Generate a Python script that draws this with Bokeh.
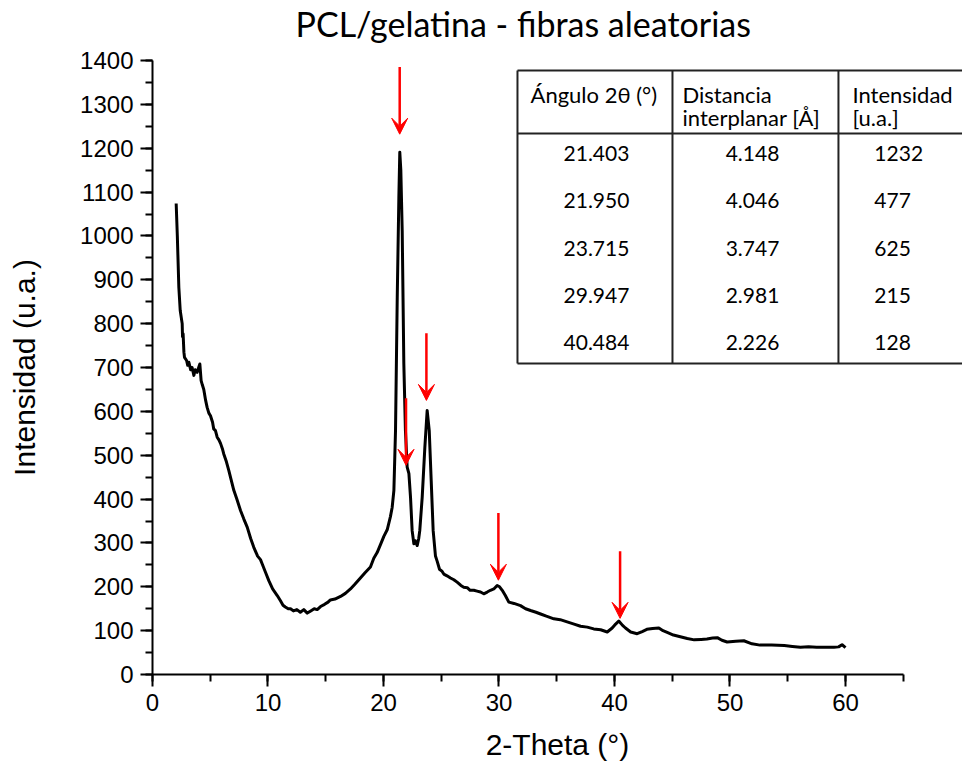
from bokeh.plotting import figure
from bokeh.models import Range1d, SingleIntervalTicker, Arrow, VeeHead, Title
from bokeh.core.properties import value
from bokeh.embed import file_html
from bokeh.resources import INLINE

# ---- XRD pattern ----
theta = [2.05, 2.15, 2.28, 2.40, 2.57, 2.60, 2.65, 2.72, 2.77, 2.95, 3.05, 3.15, 3.30, 3.43, 3.58,
         3.70, 3.87, 4.00, 4.10, 4.21, 4.32, 4.44, 4.60, 4.73, 4.88, 5.02, 5.20, 5.30, 5.45, 5.60,
         5.75, 5.89, 6.05, 6.17, 6.40, 6.61, 6.80, 7.04, 7.30, 7.62, 7.90, 8.20, 8.50, 8.77, 9.10,
         9.35, 9.50, 9.80, 10.07, 10.40, 10.80, 11.08, 11.30, 11.50, 11.75, 11.95, 12.20, 12.50,
         12.80, 13.10, 13.40, 13.70, 14.00, 14.26, 14.55, 14.90, 15.20, 15.40, 15.80, 16.28, 16.70,
         17.14, 17.50, 18.00, 18.40, 18.87, 19.16, 19.45, 19.80, 20.03, 20.32, 20.60, 20.75, 20.90,
         21.04, 21.19, 21.33, 21.41, 21.50, 21.62, 21.76, 21.90, 22.05, 22.20, 22.34, 22.48, 22.63,
         22.75, 22.92, 23.05, 23.14, 23.35, 23.58, 23.78, 23.96, 24.13, 24.30, 24.50, 24.65, 24.85,
         25.08, 25.22, 25.50, 25.80, 26.09, 26.40, 26.70, 26.95, 27.25, 27.50, 27.82, 28.10, 28.40,
         28.68, 28.98, 29.26, 29.55, 29.84, 30.05, 30.28, 30.55, 30.85, 31.30, 31.86, 32.30, 32.73,
         33.20, 33.60, 34.10, 34.75, 35.30, 35.90, 36.50, 37.06, 37.64, 38.20, 38.80, 39.37, 39.80,
         40.10, 40.37, 40.70, 40.95, 41.40, 41.96, 42.40, 42.80, 43.30, 43.84, 44.20, 44.56, 45.10,
         45.70, 46.30, 46.90, 47.50, 48.00, 48.50, 48.90, 49.30, 49.75, 50.50, 51.20, 51.90, 52.60,
         53.60, 54.70, 55.40, 56.10, 56.80, 57.50, 58.30, 59.00, 59.40, 59.70, 60.00]
intensity = [1074, 1000, 883, 830, 800, 770, 777, 735, 723, 716, 705, 712, 695, 700, 682,
             695, 689, 700, 708, 670, 660, 650, 625, 609, 596, 590, 575, 560, 556, 541,
             535, 527, 515, 503, 485, 465, 445, 420, 400, 374, 355, 336, 310, 290, 270,
             262, 252, 232, 214, 195, 180, 168, 158, 154, 150, 150, 145, 148,
             142, 148, 140, 145, 150, 148, 155, 160, 165, 170, 172, 178, 185,
             195, 205, 220, 232, 245, 265, 278, 300, 315, 330, 360, 381, 420,
             556, 860, 1088, 1191, 1150, 1012, 709, 556, 473, 458, 404, 328, 298,
             305, 294, 310, 328, 404, 518, 602, 556, 442, 328, 270, 258, 240,
             235, 229, 225, 220, 216, 210, 203, 199, 198, 192, 192, 190, 188,
             184, 188, 192, 195, 203, 200, 192, 180, 165, 162, 157, 150, 146,
             142, 138, 133, 127, 125, 120, 115, 110, 108, 104, 102, 97, 106,
             115, 122, 112, 106, 97, 93, 98, 103, 105, 106, 100, 96, 90,
             86, 82, 79, 80, 81, 83, 84, 78, 74, 76, 77, 70, 67,
             67, 66, 64, 62, 63, 62, 62, 62, 63, 68, 61]

# ---- Peak table ----
peak_angle = [21.403, 21.950, 23.715, 29.947, 40.484]
peak_dist = [4.148, 4.046, 3.747, 2.981, 2.226]
peak_int = [1232, 477, 625, 215, 128]
header_1 = ["Ángulo 2θ (°)"]
header_2 = ["Distancia", "interplanar [Å]"]
header_3 = ["Intensidad", "[u.a.]"]
title_text = "PCL/gelatina - fibras aleatorias"

x_ticks_interval = 10
y_ticks_interval = 100

p = figure(width=962, height=769, output_backend="svg", toolbar_location=None,
           x_range=Range1d(0, 70.13), y_range=Range1d(0, 1400),
           min_border_left=152, min_border_right=0, min_border_top=60, min_border_bottom=95,
           title=title_text)
p.outline_line_color = None
p.grid.visible = False
p.background_fill_color = "white"
p.border_fill_color = "white"

p.title.text_font = "Lato"
p.title.text_font_size = "34px"
p.title.text_font_style = "normal"
p.title.text_color = "black"
p.title.align = "left"
p.title.offset = 143
p.title.vertical_align = "middle"
p.title.standoff = 0

# blank spacer between the frame and the title (lifts the title)
p.add_layout(Title(text=" ", text_font_size="12px", standoff=0), "above")

xa = p.xaxis[0]
ya = p.yaxis[0]
xa.ticker = SingleIntervalTicker(interval=x_ticks_interval, num_minor_ticks=2)
ya.ticker = SingleIntervalTicker(interval=y_ticks_interval, num_minor_ticks=2)
xa.bounds = (0, 65)
ya.bounds = (0, 1400)
xa.axis_label = "2-Theta (°)"
ya.axis_label = "Intensidad (u.a.)"
for ax in (xa, ya):
    ax.axis_line_width = 2
    ax.axis_line_color = "black"
    ax.major_tick_line_width = 2
    ax.minor_tick_line_width = 2
    ax.major_tick_line_color = "black"
    ax.minor_tick_line_color = "black"
    ax.major_tick_out = 12
    ax.major_tick_in = 0
    ax.minor_tick_out = 7
    ax.minor_tick_in = 0
    ax.major_label_text_font = "Liberation Sans"
    ax.major_label_text_font_size = "24px"
    ax.major_label_text_color = "black"
    ax.axis_label_text_font = "Liberation Sans"
    ax.axis_label_text_font_size = "30px"
    ax.axis_label_text_font_style = "normal"
    ax.axis_label_text_color = "black"
    ax.major_label_standoff = 7
xa.axis_label_standoff = 14
ya.axis_label_standoff = 36

p.line(theta, intensity, line_color="black", line_width=3, line_join="round")

# arrows marking the tabulated peaks
for a, i in zip(peak_angle, peak_int):
    p.add_layout(Arrow(end=VeeHead(size=16, fill_color="red", line_color="red", line_width=1),
                       x_start=a, y_start=i + 153, x_end=a, y_end=i,
                       line_color="red", line_width=2.5))

# table frame (layout in axis units)
tl, tr = 31.6, 70.13
c1, c2 = 45.02, 59.39
tt, th, tb = 1377, 1233.5, 709
p.segment(x0=[tl, tl, tl, tl, c1, c2], y0=[tt, th, tb, tt, tt, tt],
          x1=[tr, tr, tr, tl, c1, c2], y1=[tt, th, tb, tb, tb, tb],
          line_color="#222222", line_width=2)

tfont = value("Lato")
tsize = value("21px")
hsize = value("22px")
row_y = [1188 - 108 * k for k in range(len(peak_angle))]
p.text(x=[38.44] * len(row_y), y=row_y, text=[f"{v:.3f}" for v in peak_angle],
       text_font=tfont, text_font_size=tsize, text_align="center", text_baseline="middle", text_color="black")
p.text(x=[51.95] * len(row_y), y=row_y, text=[f"{v:.3f}" for v in peak_dist],
       text_font=tfont, text_font_size=tsize, text_align="center", text_baseline="middle", text_color="black")
p.text(x=[62.5] * len(row_y), y=row_y, text=[str(v) for v in peak_int],
       text_font=tfont, text_font_size=tsize, text_align="left", text_baseline="middle", text_color="black")

hy = [1322, 1270]
p.text(x=[32.73], y=[hy[0]], text=header_1, text_font=tfont, text_font_size=hsize,
       text_align="left", text_baseline="middle", text_color="black")
p.text(x=[45.89] * 2, y=hy, text=header_2, text_font=tfont, text_font_size=hsize,
       text_align="left", text_baseline="middle", text_color="black")
p.text(x=[60.6] * 2, y=hy, text=header_3, text_font=tfont, text_font_size=hsize,
       text_align="left", text_baseline="middle", text_color="black")

open("out.html", "w").write(file_html(p, INLINE))
